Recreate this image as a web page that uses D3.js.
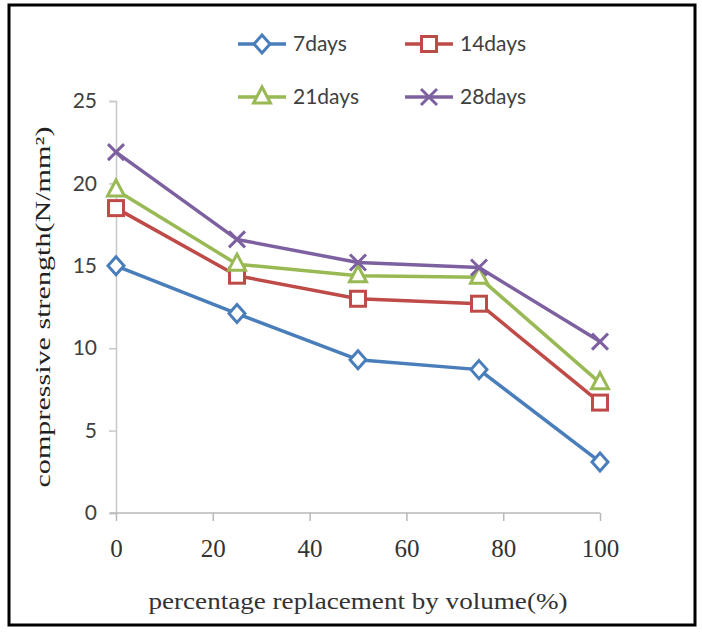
<!DOCTYPE html>
<html>
<head>
<meta charset="utf-8">
<script src="https://cdn.jsdelivr.net/npm/d3@7"></script>
<style>
  html, body { margin: 0; padding: 0; background: #fff; }
  svg { display: block; }
</style>
</head>
<body>
<script>
// Replacement percentages (x) and compressive strength per curing age (N/mm²)
const replacement = [0, 25, 50, 75, 100];
const days7  = [15.0, 12.1, 9.3, 8.7, 3.1];
const days14 = [18.5, 14.4, 13.0, 12.7, 6.7];
const days21 = [19.6, 15.1, 14.4, 14.3, 7.9];
const days28 = [21.9, 16.6, 15.2, 14.9, 10.4];
const seriesNames = ["7days", "14days", "21days", "28days"];
const xTicks = [0, 20, 40, 60, 80, 100];
const yTicks = [0, 5, 10, 15, 20, 25];

const colors = ["#4A7EBB", "#BE4B48", "#98B954", "#7D60A0"];
const symbols = ["diamond", "square", "triangle", "cross"];
const seriesValues = [days7, days14, days21, days28];

const W = 702, H = 632;
const svg = d3.select("body").append("svg").attr("width", W).attr("height", H);

// Outer frame
svg.append("rect").attr("x", 9).attr("y", 5).attr("width", 686).attr("height", 620)
  .attr("fill", "#fff").attr("stroke", "#000").attr("stroke-width", 3);

const x = d3.scaleLinear().domain([0, 100]).range([116, 600]);
const y = d3.scaleLinear().domain([0, 25]).range([513, 101]);

// Y axis
const yAxis = svg.append("g").attr("transform", `translate(${x(0)},0)`)
  .call(d3.axisLeft(y).tickValues(yTicks).tickSize(7).tickPadding(12));
yAxis.select(".domain").attr("stroke", "#c8c8c8").attr("stroke-width", 1.5);
yAxis.selectAll(".tick line").attr("stroke", "#c8c8c8").attr("stroke-width", 1.5);
yAxis.selectAll(".tick text").attr("font-family", "Lato, 'Open Sans', sans-serif")
  .attr("font-size", 21).attr("fill", "#404040");

// X axis
const xAxis = svg.append("g").attr("transform", `translate(0,${y(0)})`)
  .call(d3.axisBottom(x).tickValues(xTicks).tickSize(8).tickPadding(18));
xAxis.select(".domain").attr("stroke", "#b8b8b8").attr("stroke-width", 1.5)
  .attr("d", `M${x(0) - 6},0H${x(100)}`);
xAxis.selectAll(".tick line").attr("stroke", "#b8b8b8").attr("stroke-width", 1.5);
xAxis.selectAll(".tick text").attr("font-family", "'Liberation Serif', 'Times New Roman', serif")
  .attr("font-size", 25).attr("fill", "#333");

// Axis titles
svg.append("text").attr("x", (x(0) + x(100)) / 2).attr("y", 609)
  .attr("text-anchor", "middle")
  .attr("font-family", "'Liberation Serif', 'Times New Roman', serif")
  .attr("font-size", 23).attr("fill", "#333")
  .attr("textLength", 419).attr("lengthAdjust", "spacingAndGlyphs")
  .text("percentage replacement by volume(%)");

svg.append("text")
  .attr("transform", `translate(50,${(y(0) + y(25)) / 2}) rotate(-90)`)
  .attr("text-anchor", "middle")
  .attr("font-family", "'Liberation Serif', 'Times New Roman', serif")
  .attr("font-size", 22).attr("fill", "#222")
  .attr("textLength", 361).attr("lengthAdjust", "spacingAndGlyphs")
  .text("compressive strength(N/mm²)");

// Marker shapes (hollow)
function drawMarker(g, kind, cx, cy, color) {
  const s = 8;
  if (kind === "diamond") {
    g.append("path").attr("d", `M${cx},${cy - s - 1}L${cx + s},${cy}L${cx},${cy + s + 1}L${cx - s},${cy}Z`)
      .attr("fill", "#fff").attr("stroke", color).attr("stroke-width", 3);
  } else if (kind === "square") {
    g.append("rect").attr("x", cx - 7.5).attr("y", cy - 7.5).attr("width", 15).attr("height", 15)
      .attr("fill", "#fff").attr("stroke", color).attr("stroke-width", 3);
  } else if (kind === "triangle") {
    g.append("path").attr("d", `M${cx},${cy - 10}L${cx + 8.5},${cy + 6}L${cx - 8.5},${cy + 6}Z`)
      .attr("fill", "#fff").attr("stroke", color).attr("stroke-width", 3).attr("stroke-linejoin", "miter");
  } else {
    g.append("path").attr("d", `M${cx - 8},${cy - 8}L${cx + 8},${cy + 8}M${cx + 8},${cy - 8}L${cx - 8},${cy + 8}`)
      .attr("stroke", color).attr("stroke-width", 3);
  }
}

const line = d3.line().x(d => x(d[0])).y(d => y(d[1]));

seriesValues.forEach((vals, i) => {
  const g = svg.append("g");
  const pts = replacement.map((r, j) => [r, vals[j]]);
  g.append("path").datum(pts).attr("d", line)
    .attr("fill", "none").attr("stroke", colors[i]).attr("stroke-width", 3.5)
    .attr("stroke-linejoin", "round");
  pts.forEach(p => drawMarker(g, symbols[i], x(p[0]), y(p[1]), colors[i]));
});

// Legend (2 x 2)
const legendPos = [[238, 44], [405, 44], [238, 97], [405, 97]];
seriesNames.forEach((name, i) => {
  const [lx, ly] = legendPos[i];
  const g = svg.append("g");
  g.append("line").attr("x1", lx).attr("x2", lx + 48).attr("y1", ly).attr("y2", ly)
    .attr("stroke", colors[i]).attr("stroke-width", 3.5);
  drawMarker(g, symbols[i], lx + 24, ly, colors[i]);
  g.append("text").attr("x", lx + 55).attr("y", ly + 7)
    .attr("font-family", "Lato, 'Open Sans', sans-serif").attr("font-size", 21)
    .attr("fill", "#404040").text(name);
});
</script>
</body>
</html>
